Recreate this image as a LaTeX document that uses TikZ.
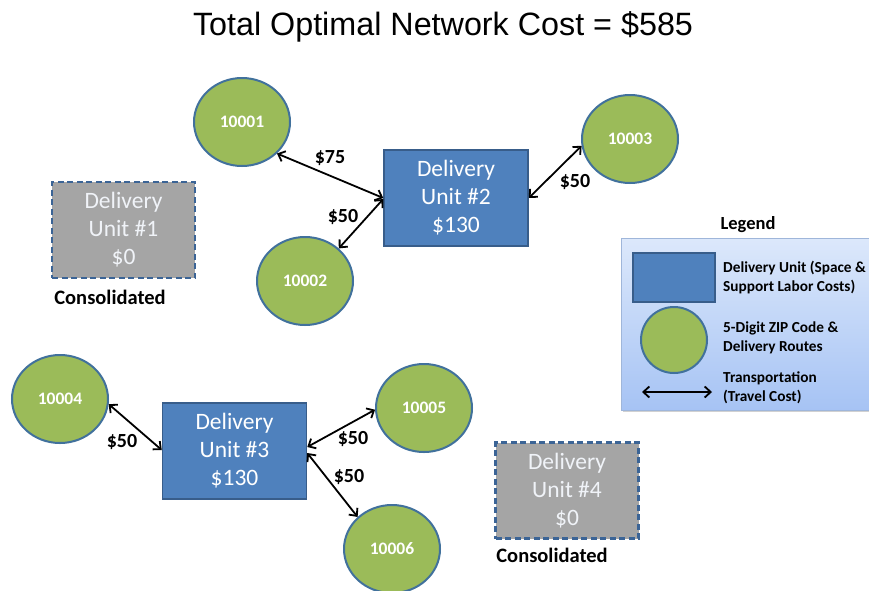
\documentclass[tikz,border=0pt]{standalone}
\usepackage{fontspec}
\setmainfont{Carlito}
\newfontfamily\titlefont{Liberation Sans}
\usetikzlibrary{shapes.geometric,arrows.meta}
\definecolor{zipgreen}{HTML}{9BBB59}
\definecolor{zipborder}{HTML}{41719C}
\definecolor{dublue}{HTML}{4F81BD}
\definecolor{duborder}{HTML}{385D8A}
\definecolor{dugrey}{HTML}{A5A5A5}
\definecolor{greyborder}{HTML}{3B6496}
\definecolor{greytext}{HTML}{F0F3F8}
\definecolor{legtop}{HTML}{DCE8FB}
\definecolor{legbot}{HTML}{A6C3F4}
\definecolor{legborder}{HTML}{9FB6DA}
\tikzset{
  zip/.style={ellipse, draw=zipborder, fill=zipgreen, line width=2pt,
    minimum width=96pt, minimum height=88pt, inner sep=0pt,
    text=white, font=\fontsize{17.5}{20}\selectfont\bfseries},
  unitbox/.style={rectangle, draw=duborder, fill=dublue, line width=1.5pt,
    minimum width=144pt, minimum height=96pt, inner sep=0pt, align=center,
    text=white, font=\fontsize{23.5}{28}\selectfont},
  closedbox/.style={rectangle, draw=greyborder, fill=dugrey, line width=2.3pt,
    dash pattern=on 6pt off 3.5pt,
    minimum width=143pt, minimum height=96pt, inner sep=0pt, align=center,
    text=greytext, font=\fontsize{23.5}{28}\selectfont},
  link/.style={line width=1.8pt, {Straight Barb[length=6pt,width=11pt]}-{Straight Barb[length=6pt,width=11pt]}},
  cost/.style={font=\fontsize{20}{22}\selectfont\bfseries, inner sep=0pt},
  consol/.style={font=\fontsize{20.5}{22}\selectfont\bfseries, inner sep=0pt},
  legtext/.style={anchor=west, align=left, inner sep=0pt,
    font=\fontsize{15.3}{19}\selectfont\bfseries}
}
\begin{document}
\begin{tikzpicture}[x=1pt,y=1pt]
\clip (0,0) rectangle (869,-590);
\fill[white] (0,0) rectangle (869,-590);

% title
\node[font=\titlefont\fontsize{32.3}{36}\selectfont, inner sep=0pt] (title) at (443,-27) {Total Optimal Network Cost = \$585};

% delivery units
\node[closedbox] (du1) at (123.5,-230) {Delivery\\Unit \#1\\\$0};
\node[consol] (c1) at (110,-297) {Consolidated};
\node[unitbox] (du2) at (456,-198) {Delivery\\Unit \#2\\\$130};
\node[unitbox] (du3) at (234.5,-451) {Delivery\\Unit \#3\\\$130};
\node[closedbox] (du4) at (567,-490.5) {Delivery\\Unit \#4\\\$0};
\node[consol] (c4) at (552,-555) {Consolidated};

% zip codes
\node[zip] (z1) at (242,-122) {10001};
\node[zip] (z2) at (305,-281) {10002};
\node[zip] (z3) at (630,-139) {10003};
\node[zip] (z4) at (60,-399) {10004};
\node[zip] (z5) at (424,-408) {10005};
\node[zip] (z6) at (392,-549) {10006};

% links
\draw[link] (z1.-42) -- (du2.west);
\draw[link] (z2.44) -- ([yshift=-1pt]du2.west);
\draw[link] (du2.east) -- (z3.188);
\draw[link] (z4.-6) -- ([yshift=1pt]du3.west);
\draw[link] ([yshift=4pt]du3.east) -- (z5.182);
\draw[link] ([yshift=-2pt]du3.east) -- (z6.137);

% cost labels
\node[cost] (l1) at (330,-158) {\$75};
\node[cost] (l2) at (343,-217) {\$50};
\node[cost] (l3) at (575,-182) {\$50};
\node[cost] (l4) at (122,-442) {\$50};
\node[cost] (l5) at (353,-439) {\$50};
\node[cost] (l6) at (349,-477) {\$50};

% legend
\node[font=\fontsize{18.5}{20}\selectfont\bfseries, inner sep=0pt] (legtitle) at (748,-225) {Legend};
\fill[black!18] (623,-240) rectangle (885,-412);
\shade[top color=legtop, bottom color=legbot, draw=legborder, line width=0.8pt] (621,-238) rectangle (880,-410);
\node[rectangle, draw=duborder, fill=dublue, line width=1.5pt, minimum width=82pt, minimum height=49pt, inner sep=0pt] (lrect) at (674,-277.5) {};
\node[circle, draw=zipborder, fill=zipgreen, line width=2pt, minimum size=66pt, inner sep=0pt] (lcirc) at (674,-340) {};
\coordinate (la) at (642,-392);
\coordinate (lb) at (712,-392);
\draw[link] (la) -- (lb);
\node[legtext] (t1) at (723,-278) {Delivery Unit (Space \&\\Support Labor Costs)};
\node[legtext] (t2) at (723,-338) {5-Digit ZIP Code \&\\Delivery Routes};
\node[legtext] (t3) at (723,-388) {Transportation\\(Travel Cost)};
\end{tikzpicture}
\end{document}
